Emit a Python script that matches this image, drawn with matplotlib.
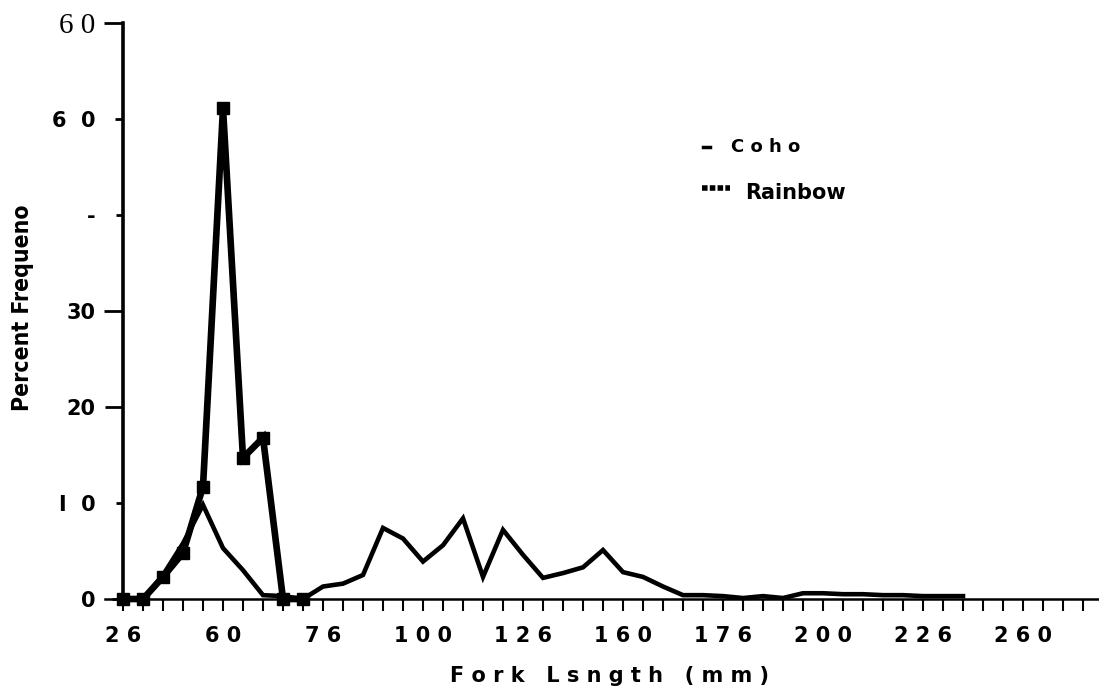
#!/usr/bin/env python
"""Percent frequency by fork length, coho vs rainbow."""

import matplotlib
matplotlib.use('Agg')

import numpy as np
import matplotlib.pyplot as plt
from matplotlib.lines import Line2D

######################################################################
## DATA (length bins are plotted by index, labels as printed)

coho = [0, 0, 2.3, 4.8, 11.7, 51.1, 14.7, 16.8, 0, 0]
rainbow = [0, 0, 2.5, 5.8, 9.8, 5.3, 3.0, 0.4, 0.3, 0.0,
           1.3, 1.6, 2.5, 7.4, 6.3, 3.9, 5.6, 8.4, 2.3, 7.2,
           4.6, 2.2, 2.7, 3.3, 5.1, 2.8, 2.3, 1.3, 0.4, 0.4,
           0.3, 0.1, 0.3, 0.1, 0.6, 0.6, 0.5, 0.5, 0.4, 0.4,
           0.3, 0.3, 0.3]

x_labels = ['2 6', '6 0', '7 6', '1 0 0', '1 2 6',
            '1 6 0', '1 7 6', '2 0 0', '2 2 6', '2 6 0']
y_ticks = [0, 10, 20, 30, 40, 50, 60]
y_labels = ['0', 'I  0', '20', '30', '-', '6  0', '6 0']

######################################################################

W, H = 1099, 691
fig = plt.figure(figsize=(W / 100, H / 100), dpi=100)
ax = fig.add_axes([105 / W, 92 / H, 994 / W, 576 / H])

bold = dict(family='DejaVu Sans', weight='bold')

# lines
ax.plot(np.arange(len(rainbow)), rainbow, 'k-', lw=3.3,
        solid_joinstyle='miter', clip_on=False, zorder=3)
ax.plot(np.arange(len(coho)), coho, 'k-', lw=4.8, marker='s', ms=9,
        solid_joinstyle='miter', clip_on=False, zorder=4)

ax.set_xlim(-0.9, 48.8)
ax.set_ylim(0, 60)

# spines
for s in ['top', 'right']:
    ax.spines[s].set_visible(False)
ax.spines['left'].set_position(('data', 0))
ax.spines['left'].set_linewidth(2.6)
ax.spines['bottom'].set_linewidth(1.8)

# x ticks: one per bin, label every fifth
n_bins = 49
ax.set_xticks(np.arange(n_bins))
xl = ['' for _ in range(n_bins)]
for k, lab in enumerate(x_labels):
    xl[k * 5] = lab
ax.set_xticklabels(xl, fontsize=15, **bold)
ax.tick_params(axis='x', direction='out', length=8.6, width=1.5, pad=11)

# y ticks
ax.set_yticks(y_ticks)
ax.set_yticklabels(y_labels, fontsize=15, **bold)
ax.tick_params(axis='y', direction='out', length=6, width=2, pad=14)
tick_px = [8, 5, 13, 14, 5, 6, 14]
for t, ms in zip(ax.yaxis.get_major_ticks(), tick_px):
    t.tick1line.set_markersize(ms)
top = ax.get_yticklabels()[-1]
top.set_fontfamily('Liberation Serif')
top.set_fontweight('normal')
top.set_fontsize(21)

# axis titles
fig.text(23 / W, 1 - 308 / H, 'Percent Frequeno', rotation=90,
         ha='center', va='center', fontsize=16.5, family='DejaVu Sans',
         weight='bold', stretch='condensed')
fig.text(610 / W, 1 - 676 / H, 'F o r k   L s n g t h   ( m m )',
         ha='center', va='center', fontsize=15, **bold)

# legend, drawn by hand like the original
fig.add_artist(Line2D([703 / W, 710 / W], [1 - 147 / H, 1 - 147 / H],
                      color='k', lw=2.5, transform=fig.transFigure))
fig.text(731 / W, 1 - 147 / H, 'C o h o', ha='left', va='center',
         fontsize=13, **bold)
fig.add_artist(Line2D([702 / W, 730 / W], [1 - 188 / H, 1 - 188 / H],
                      color='k', lw=4, ls=(0, (1, 0.4)),
                      transform=fig.transFigure))
fig.text(745 / W, 1 - 193 / H, 'Rainbow', ha='left', va='center',
         fontsize=15, **bold)

plt.savefig('out.png', dpi=100)
